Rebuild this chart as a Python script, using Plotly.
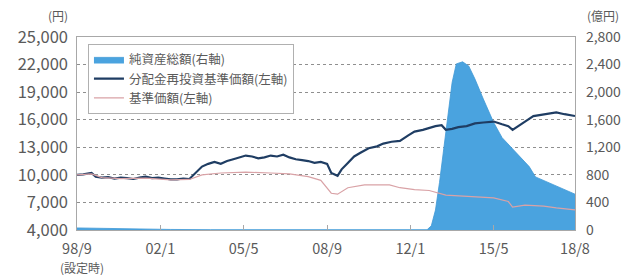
import plotly.graph_objects as go

# ---------------- data ----------------
nav_dates = ["1998-09-01", "1999-06-01", "2000-06-01", "2001-06-01", "2002-06-01", "2004-01-01",
             "2008-01-01", "2012-01-01", "2012-09-01", "2012-11-01", "2013-01-01", "2013-03-01",
             "2013-05-01", "2013-07-01", "2013-09-01", "2013-11-01", "2014-02-01", "2014-05-01",
             "2014-08-01", "2014-12-01", "2015-05-01", "2015-09-01", "2016-03-01", "2016-10-01",
             "2017-01-01", "2017-09-01", "2018-05-01", "2018-08-01"]
nav_values = [30, 25, 20, 12, 8, 5, 4, 3, 5, 60, 290, 690, 1170, 1650, 2140, 2410, 2440, 2380,
              2190, 1900, 1560, 1340, 1140, 920, 770, 660, 560, 520]

reinv_dates = ["1998-09-01", "1998-12-01", "1999-04-01", "1999-06-01", "1999-09-01", "1999-12-01",
               "2000-03-01", "2000-06-01", "2000-09-01", "2000-12-01", "2001-03-01", "2001-06-01",
               "2001-09-01", "2001-12-01", "2002-03-01", "2002-06-01", "2002-09-01", "2002-12-01",
               "2003-03-01", "2003-06-01", "2003-09-01", "2003-12-01", "2004-03-01", "2004-06-01",
               "2004-09-01", "2004-12-01", "2005-03-01", "2005-06-01", "2005-09-01", "2005-12-01",
               "2006-03-01", "2006-06-01", "2006-09-01", "2006-12-01", "2007-03-01", "2007-06-01",
               "2007-09-01", "2007-12-01", "2008-03-01", "2008-06-01", "2008-09-01", "2008-11-01",
               "2009-02-01", "2009-04-01", "2009-07-01", "2009-10-01", "2010-01-01", "2010-05-01",
               "2010-09-01", "2010-12-01", "2011-04-01", "2011-08-01", "2011-12-01", "2012-03-01",
               "2012-07-01", "2012-10-01", "2013-01-01", "2013-04-01", "2013-06-01", "2013-09-01",
               "2013-12-01", "2014-04-01", "2014-08-01", "2014-12-01", "2015-05-01", "2015-09-01",
               "2015-12-01", "2016-02-01", "2016-05-01", "2016-08-01", "2016-12-01", "2017-05-01",
               "2017-11-01", "2018-03-01", "2018-08-01"]
reinv_values = [10000, 10050, 10200, 9800, 9700, 9750, 9600, 9700, 9650, 9550, 9700, 9800,
                9650, 9700, 9600, 9500, 9500, 9600, 9550, 10200, 10900, 11200, 11400, 11200,
                11500, 11700, 11900, 12100, 12000, 11800, 11900, 12100, 12000, 12200, 11900, 11700,
                11600, 11500, 11300, 11400, 11200, 10200, 9900, 10600, 11300, 12000, 12400, 12900,
                13100, 13400, 13600, 13700, 14300, 14700, 14900, 15100, 15300, 15400, 14900, 15000,
                15200, 15300, 15600, 15700, 15800, 15500, 15300, 14900, 15300, 15800, 16400, 16600,
                16800, 16600, 16400]

base_dates = ["1998-09-01", "1999-04-01", "1999-09-01", "2000-06-01", "2001-06-01", "2002-06-01",
              "2003-03-01", "2003-09-01", "2004-06-01", "2005-06-01", "2006-06-01", "2007-03-01",
              "2007-12-01", "2008-06-01", "2008-11-01", "2009-02-01", "2009-07-01", "2010-03-01",
              "2011-03-01", "2011-08-01", "2012-03-01", "2012-10-01", "2013-06-01", "2014-03-01",
              "2015-05-01", "2015-12-01", "2016-02-01", "2016-08-01", "2017-05-01", "2017-11-01",
              "2018-08-01"]
base_values = [10000, 10100, 9700, 9600, 9650, 9450, 9500, 10000, 10200, 10300, 10200, 10100,
               9800, 9400, 8000, 7900, 8600, 8900, 8900, 8600, 8400, 8300, 7800, 7700,
               7500, 7100, 6500, 6700, 6600, 6400, 6200]

x_tickvals = ["1998-09-01", "2002-01-01", "2005-05-01", "2008-09-01", "2012-01-01", "2015-05-01", "2018-08-01"]
x_ticktext = ["98/9", "02/1", "05/5", "08/9", "12/1", "15/5", "18/8"]
start_note = "(設定時)"

legend_names = ["純資産総額(右軸)", "分配金再投資基準価額(左軸)", "基準価額(左軸)"]

FONT = "Noto Sans CJK JP"
GRAY = "#5a5a5a"
FRAME = "#a8a8a8"

fig = go.Figure()
fig.add_trace(go.Scatter(x=nav_dates, y=nav_values, name=legend_names[0], mode="lines",
                         fill="tozeroy", fillcolor="#4aa3df",
                         line=dict(color="#3f98d6", width=0.8), yaxis="y"))
fig.add_trace(go.Scatter(x=reinv_dates, y=reinv_values, name=legend_names[1], mode="lines",
                         line=dict(color="#1f3d63", width=2.2), yaxis="y2"))
fig.add_trace(go.Scatter(x=base_dates, y=base_values, name=legend_names[2], mode="lines",
                         line=dict(color="#d9a2a6", width=1.2), yaxis="y2"))

fig.update_layout(
    width=622, height=275,
    margin=dict(l=77, r=47, t=37, b=45, autoexpand=False),
    paper_bgcolor="white", plot_bgcolor="white",
    font=dict(family=FONT, color=GRAY, size=15),
    showlegend=True,
    legend=dict(x=0.022, y=0.965, xanchor="left", yanchor="top",
                bgcolor="white", bordercolor="#b0b0b0", borderwidth=1,
                font=dict(size=12.5, color=GRAY), tracegroupgap=0,
                itemwidth=30, traceorder="normal"),
    xaxis=dict(type="date", range=["1998-09-01", "2018-08-01"],
               tickvals=x_tickvals, ticktext=x_ticktext,
               ticks="inside", ticklen=5, tickcolor=FRAME,
               showline=True, linecolor=FRAME, linewidth=1.2, mirror=True,
               showgrid=False, zeroline=False, automargin=False,
               ticklabelstandoff=5,
               tickfont=dict(size=14.5, color=GRAY)),
    yaxis=dict(side="right", range=[0, 2800], dtick=400, tick0=0, tickformat=",",
               showline=True, linecolor=FRAME, linewidth=1.2, mirror=True,
               showgrid=True, gridcolor="#8f8f8f", griddash="dot", gridwidth=1.2,
               zeroline=False, ticks="", ticklabelstandoff=7, automargin=False,
               tickfont=dict(size=14, color=GRAY)),
    yaxis2=dict(side="left", overlaying="y", range=[4000, 25000], dtick=3000, tick0=4000,
                tickformat=",", showgrid=False, zeroline=False, showline=False,
                ticks="", ticklabelstandoff=8, automargin=False,
                tickfont=dict(size=16.5, color=GRAY)),
    annotations=[
        dict(text="(円)", xref="paper", yref="paper", x=(70 - 77) / 498, y=(230 - 15) / 193,
             xanchor="right", yanchor="middle", showarrow=False, font=dict(size=12, color=GRAY)),
        dict(text="(億円)", xref="paper", yref="paper", x=(603 - 77) / 498, y=(230 - 15) / 193,
             xanchor="center", yanchor="middle", showarrow=False, font=dict(size=12, color=GRAY)),
        dict(text=start_note, xref="paper", yref="paper", x=(58 - 77) / 498, y=(230 - 267) / 193,
             xanchor="left", yanchor="middle", showarrow=False, font=dict(size=12, color=GRAY)),
    ],
)

fig.write_html("out.html", config={"displayModeBar": False},
               post_script="document.body.style.margin='0';")
